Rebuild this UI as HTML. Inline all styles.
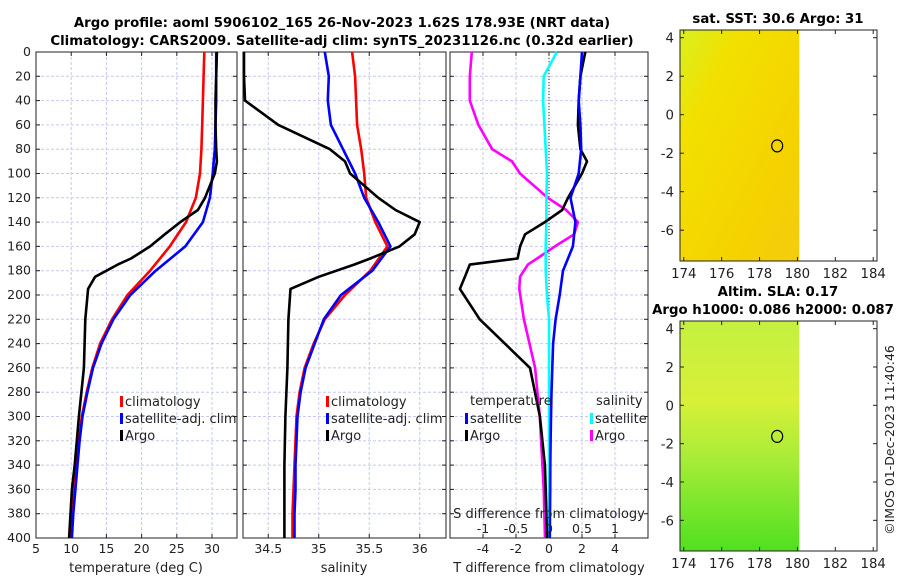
<!DOCTYPE html>
<html><head><meta charset="utf-8"><style>
body{margin:0;background:#fff}
svg{display:block;font-family:"DejaVu Sans","Liberation Sans",sans-serif}
</style></head><body>
<svg id="c" width="900" height="580" viewBox="0 0 900 580">
<defs>
<linearGradient id="sstg" x1="0" y1="0" x2="1" y2="1">
<stop offset="0" stop-color="#d8f020"/><stop offset="0.25" stop-color="#f2e000"/><stop offset="0.7" stop-color="#f5d200"/><stop offset="1" stop-color="#f4cc10"/></linearGradient>
<linearGradient id="slag" x1="0" y1="0" x2="0" y2="1">
<stop offset="0" stop-color="#c4f040"/><stop offset="0.35" stop-color="#d8f038"/><stop offset="0.6" stop-color="#a8ec38"/><stop offset="1" stop-color="#50e020"/></linearGradient>
</defs>
<text x="342" y="27" text-anchor="middle" font-size="13.3" font-weight="bold">Argo profile: aoml 5906102_165 26-Nov-2023 1.62S 178.93E (NRT data)</text>
<text x="342" y="45" text-anchor="middle" font-size="13.3" font-weight="bold">Climatology: CARS2009. Satellite-adj clim: synTS_20231126.nc (0.32d earlier)</text>
<text x="778" y="23" text-anchor="middle" font-size="13.3" font-weight="bold">sat. SST: 30.6 Argo: 31</text>
<text x="778" y="296" text-anchor="middle" font-size="13.3" font-weight="bold">Altim. SLA: 0.17</text>
<text x="773" y="314" text-anchor="middle" font-size="13.3" font-weight="bold">Argo h1000: 0.086 h2000: 0.087</text>
<text transform="translate(894,440) rotate(-90)" text-anchor="middle" font-size="12.5" fill="#222">©IMOS 01-Dec-2023 11:40:46</text>
<g id="g"></g>
</svg>
<script>
const depths=[0,20,40,60,80,100,120,140,160,180,200,220,240,260,280,300,320,340,360,380,400];
const tClim=[28.9,28.8,28.7,28.6,28.5,28.3,27.7,26.3,24,21.2,18,15.8,14.1,13,12.2,11.5,11.1,10.8,10.4,10.1,9.8];
const tSat=[30.6,30.6,30.6,30.5,30.4,30.1,29.7,28.7,26.2,22,18.4,16,14.3,13.1,12.3,11.6,11.2,10.9,10.6,10.3,10.1];
const argoDepths=[0,20,40,60,80,90,100,120,130,140,150,160,170,175,185,195,220,260,300,340,360,400];
const tArgo=[30.7,30.6,30.5,30.5,30.6,30.7,30.4,29,28,25.5,23.3,21.2,18.5,16.6,13.4,12.4,12,11.8,11.1,10.5,10.1,9.7];
const sClim=[35.33,35.36,35.37,35.38,35.42,35.45,35.47,35.56,35.68,35.51,35.26,35.06,34.95,34.86,34.81,34.78,34.77,34.76,34.75,34.74,34.74];
const sSat=[35.06,35.1,35.09,35.12,35.24,35.36,35.45,35.59,35.71,35.53,35.22,35.05,34.96,34.87,34.82,34.79,34.78,34.77,34.77,34.76,34.76];
const sArgo=[34.26,34.26,34.27,34.6,35.11,35.26,35.31,35.59,35.76,36.0,35.95,35.8,35.51,35.35,35.0,34.72,34.7,34.69,34.67,34.66,34.66,34.66];
const dTSat=[2.0,1.9,1.8,1.9,1.95,1.8,1.3,1.6,1.45,0.85,0.65,0.4,0.25,0.2,0.15,0.12,0.1,0.08,0.07,0.06,0.05];
const dTArgo=[2.2,1.9,1.8,1.75,1.9,2.3,2.0,1.15,0.8,-0.25,-1.45,-1.75,-1.9,-4.8,-5.1,-5.4,-4.2,-1.15,-0.55,-0.25,-0.2,-0.12];
const dSSat=[0.12,-0.08,-0.09,-0.07,-0.05,-0.03,-0.04,-0.04,-0.05,-0.05,-0.03,0,0,0,0,0,0,0,0,0,0];
const dSArgo=[-1.17,-1.2,-1.2,-1.07,-0.86,-0.56,-0.44,-0.02,0.26,0.44,0.38,0.09,-0.18,-0.32,-0.44,-0.45,-0.38,-0.21,-0.14,-0.1,-0.08,-0.06];
const depthTicks=[0,20,40,60,80,100,120,140,160,180,200,220,240,260,280,300,320,340,360,380,400];
const tTicks=[5,10,15,20,25,30];
const sTicks=[34.5,35,35.5,36];
const dTTicks=[-4,-2,0,2,4];
const dSTicks=[-1,-0.5,0,0.5,1];
const lonTicks=[174,176,178,180,182,184];
const latTicks=[4,2,0,-2,-4,-6];
const argoLon=178.93, argoLat=-1.62;

const NS='http://www.w3.org/2000/svg';
const G=document.getElementById('g');
function mk(t,a,p){const e=document.createElementNS(NS,t);for(const k in a)e.setAttribute(k,a[k]);(p||G).appendChild(e);return e;}
function txt(x,y,s,a,p){const e=mk('text',Object.assign({x:x,y:y,'font-size':12.5,fill:'#222'},a||{}),p);e.textContent=s;return e;}
const Y0=52,Y1=538;
const yD=d=>Y0+(d/400)*(Y1-Y0);
function lin(d0,d1,r0,r1){return v=>r0+(v-d0)/(d1-d0)*(r1-r0);}
const panels=[
 {x0:36,x1:237,sc:lin(5,33.55,36,237),ticks:tTicks,name:'temperature'},
 {x0:243,x1:446,sc:lin(34.25,36.26,243,446),ticks:sTicks,name:'salinity'},
 {x0:450,x1:648,sc:lin(-6,6,450,648),ticks:dTTicks,name:'difference'}];
panels.forEach((p,i)=>{
 const g=mk('g',{});
 
 
 depthTicks.forEach(d=>{const y=yD(d);
  mk('line',{x1:p.x0,x2:p.x1,y1:y,y2:y,stroke:'#c4cbf0','stroke-width':1,'stroke-dasharray':'3,2'},g);
  mk('line',{x1:p.x0,x2:p.x0+4,y1:y,y2:y,stroke:'#222'},g);
  mk('line',{x1:p.x1,x2:p.x1-4,y1:y,y2:y,stroke:'#222'},g);
  if(i==0)txt(31,y+4,String(d),{'text-anchor':'end'},g);});
 p.ticks.forEach(t=>{const x=p.sc(t);
  mk('line',{x1:x,x2:x,y1:Y0,y2:Y1,stroke:'#c4cbf0','stroke-width':1,'stroke-dasharray':'3,2'},g);
  mk('line',{x1:x,x2:x,y1:Y1,y2:Y1-4,stroke:'#222'},g);
  mk('line',{x1:x,x2:x,y1:Y0,y2:Y0+4,stroke:'#222'},g);
  txt(x,553,String(t),{'text-anchor':'middle'},g);});
 mk('rect',{x:p.x0,y:Y0,width:p.x1-p.x0,height:Y1-Y0,fill:'none',stroke:'#222','stroke-width':1},g);
});
function line(xs,ds,sc,col,name,w){
 const pts=xs.map((v,k)=>sc(v).toFixed(1)+','+yD(ds[k]).toFixed(1)).join(' ');
 const e=mk('polyline',{points:pts,fill:'none',stroke:col,'stroke-width':w||2.6,'stroke-linejoin':'round'});
 
 
}
const P=panels;
line(tClim,depths,P[0].sc,'#f00','temp-climatology-line');
line(tSat,depths,P[0].sc,'#00f','temp-satellite-line');
line(tArgo,argoDepths,P[0].sc,'#000','temp-argo-line');
line(sClim,depths,P[1].sc,'#f00','sal-climatology-line');
line(sSat,depths,P[1].sc,'#00f','sal-satellite-line');
line(sArgo,argoDepths,P[1].sc,'#000','sal-argo-line');
mk('line',{x1:P[2].sc(0),x2:P[2].sc(0),y1:Y0,y2:Y1,stroke:'#333','stroke-dasharray':'1,2'});
const sS=lin(-1,1,483,615);
line(dSArgo,argoDepths,sS,'#f0f','sdiff-argo-line');
line(dSSat,depths,sS,'#0ff','sdiff-satellite-line');
line(dTArgo,argoDepths,P[2].sc,'#000','tdiff-argo-line');
line(dTSat,depths,P[2].sc,'#00f','tdiff-satellite-line');
dSTicks.forEach(t=>txt(sS(t),533,String(t),{'text-anchor':'middle'}));
txt(549,518,'S difference from climatology',{'text-anchor':'middle','font-size':13});
txt(136,572,'temperature (deg C)',{'text-anchor':'middle','font-size':13});
txt(344,572,'salinity',{'text-anchor':'middle','font-size':13});
txt(549,572,'T difference from climatology',{'text-anchor':'middle','font-size':13});
function leg(x,y,col,label,name){
 const g=mk('g',{});
 
 
 mk('rect',{x:x,y:y-9,width:3,height:11,fill:col},g);
 txt(x+5,y+1,label,{'font-size':13},g);
}
leg(120,405,'#f00','climatology','legend-temp-climatology');
leg(120,422,'#00f','satellite-adj. clim','legend-temp-satellite');
leg(120,439,'#000','Argo','legend-temp-argo');
leg(326,405,'#f00','climatology','legend-sal-climatology');
leg(326,422,'#00f','satellite-adj. clim','legend-sal-satellite');
leg(326,439,'#000','Argo','legend-sal-argo');
txt(470,405,'temperature',{'font-size':13});
txt(596,405,'salinity',{'font-size':13});
leg(465,422,'#00f','satellite','legend-tdiff-satellite');
leg(465,439,'#000','Argo','legend-tdiff-argo');
leg(590,422,'#0ff','satellite','legend-sdiff-satellite');
leg(590,439,'#f0f','Argo','legend-sdiff-argo');
function map(top,bot,fill,name){
 const g=mk('g',{});
 
 
 const lx=lin(173.8,184.2,680,877);
 const ly=lin(4.4,-7.6,top,bot);
 mk('rect',{x:680,y:top,width:lx(180.1)-680,height:bot-top,fill:fill},g);
 latTicks.forEach(t=>{const y=ly(t);
  mk('line',{x1:680,x2:684,y1:y,y2:y,stroke:'#222'},g);
  mk('line',{x1:877,x2:873,y1:y,y2:y,stroke:'#222'},g);
  txt(674,y+5,String(t),{'text-anchor':'end','font-size':13.3},g);});
 lonTicks.forEach(t=>{const x=lx(t);
  mk('line',{x1:x,x2:x,y1:bot,y2:bot-4,stroke:'#222'},g);
  mk('line',{x1:x,x2:x,y1:top,y2:top+4,stroke:'#222'},g);
  txt(x,bot+17,String(t),{'text-anchor':'middle','font-size':13.3},g);});
 mk('rect',{x:680,y:top,width:197,height:bot-top,fill:'none',stroke:'#222'},g);
 const c=mk('ellipse',{cx:lx(argoLon),cy:ly(argoLat),rx:5.5,ry:6,fill:'none',stroke:'#000','stroke-width':1.2},g);
 
 
}
map(30,261,'url(#sstg)','sst-map');
map(321,551,'url(#slag)','sla-map');
</script>
</body></html>
